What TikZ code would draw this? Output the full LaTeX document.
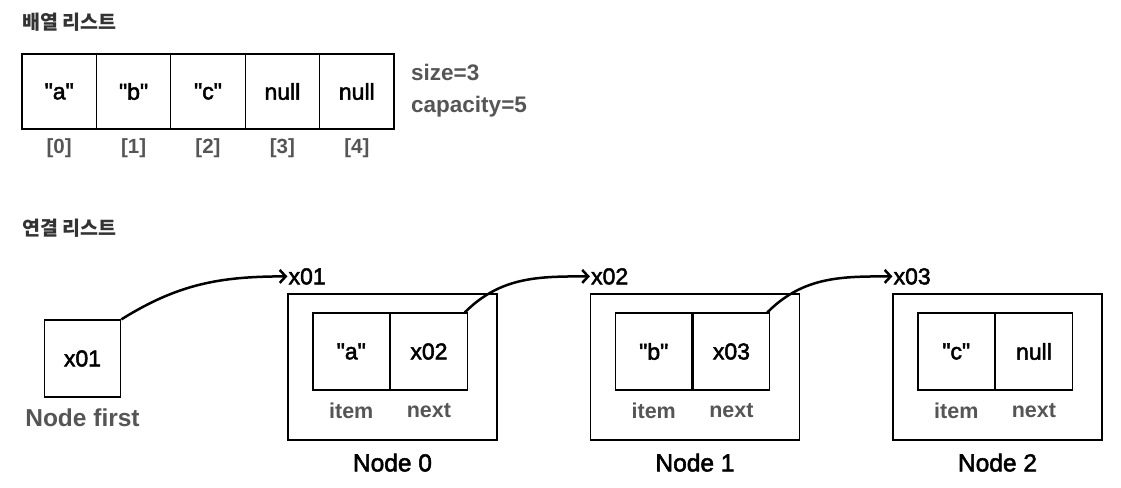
\documentclass[tikz,border=0pt]{standalone}
\usepackage{fontspec}
\setmainfont{Liberation Sans}
\newfontfamily\med{Liberation Sans}[FakeBold=2.2]
\newfontfamily\kor{Noto Sans CJK KR}
\usetikzlibrary{arrows.meta,positioning}
\definecolor{labelgray}{HTML}{555555}
\definecolor{titlegray}{HTML}{333333}
\newcommand{\qt}[1]{\textquotedbl#1\textquotedbl}

\begin{document}
\begin{tikzpicture}[x=1pt,y=-1pt]
\tikzstyle{cell} = [rectangle, draw, line width=1.2pt, minimum width=74.4pt,
minimum height=75pt, inner sep=0pt, font=\med\fontsize{23}{27}\selectfont]
\tikzstyle{cellb} = [cell, minimum width=76.5pt, minimum height=77pt]
\tikzstyle{holder} = [rectangle, draw, line width=1.2pt, minimum width=209pt,
minimum height=146pt, inner sep=0pt]
\tikzstyle{idx} = [inner sep=0pt, text=labelgray, font=\fontsize{20.5}{24}\selectfont\bfseries]
\tikzstyle{field} = [inner sep=0pt, text=labelgray, font=\fontsize{21.5}{25}\selectfont\bfseries]
\tikzstyle{caption} = [inner sep=0pt, font=\med\fontsize{24.5}{28}\selectfont]
\tikzstyle{heading} = [anchor=west, inner sep=0pt, text=titlegray, font=\kor\fontsize{19.5}{23}\selectfont\bfseries]
\tikzstyle{ptr} = [draw, line width=2.5pt, -{Straight Barb[length=6pt,width=13pt]}]

\useasboundingbox (0,0) rectangle (1121,487);

% array list
\node[heading] (arrtitle) at (22,22) {배열 리스트};
\foreach \v [count=\i from 0] in {\qt{a},\qt{b},\qt{c},null,null}
{
  \node[cell] (arr\i) at ({59.2+74.4*\i},91.5) {\v};
  \node[idx, below=9pt of arr\i] (idx\i) {[\i]};
}
\node[idx, anchor=west, font=\fontsize{22.5}{26}\selectfont\bfseries] (size) at (411,72) {size=3};
\node[idx, anchor=west, font=\fontsize{22.5}{26}\selectfont\bfseries] (cap) at (411,107) {capacity=5};

% linked list
\node[heading] (lsttitle) at (22,228) {연결 리스트};
\node[cellb] (first) at (82.5,358.5) {x01};
\node[field, font=\fontsize{24.5}{28}\selectfont\bfseries] (firstlbl) at ([yshift=-20pt]first.south) {Node first};

\foreach \k/\val/\nx/\ad in {0/\qt{a}/x02/x01, 1/\qt{b}/x03/x02, 2/\qt{c}/null/x03}
{
  \node[holder] (node\k) at ({392.5+302.5*\k},367) {};
  \node[cellb, anchor=north west] (item\k) at ([xshift=25pt,yshift=-19pt]node\k.north west) {\val};
  \node[cellb, right=0pt of item\k] (next\k) {\nx};
  \node[field] (itemlbl\k) at ([yshift=-20pt]item\k.south) {item};
  \node[field] (nextlbl\k) at ([yshift=-20pt]next\k.south) {next};
  \node[caption] (name\k) at ([yshift=-22pt]node\k.south) {Node \k};
  \node[caption, anchor=west, inner sep=1pt, font=\med\fontsize{23}{27}\selectfont] (addr\k) at ([yshift=17pt]node\k.north west) {\ad};
}

\draw[ptr] (first.north east) to[out=32,in=180] (addr0.west);
\draw[ptr] ([xshift=-3pt]next0.north east) to[out=45,in=180] (addr1.west);
\draw[ptr] ([xshift=-3pt]next1.north east) to[out=45,in=180] (addr2.west);
\end{tikzpicture}
\end{document}
